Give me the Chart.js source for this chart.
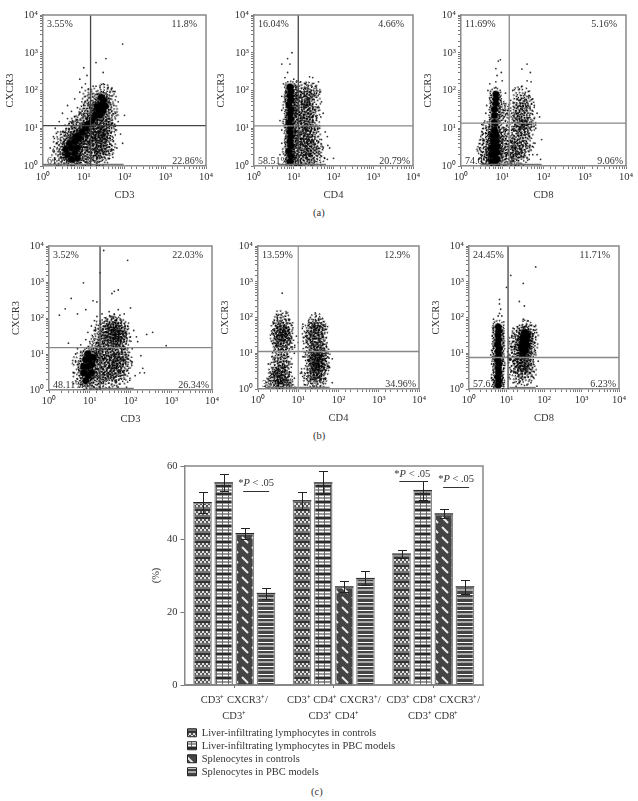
<!DOCTYPE html>
<html>
<head>
<meta charset="utf-8">
<script src="https://cdn.jsdelivr.net/npm/chart.js@4/dist/chart.umd.min.js"></script>
<style>
html, body { margin: 0; padding: 0; background: #fff; width: 638px; height: 801px; overflow: hidden; }
canvas { position: absolute; }
.cap { position: absolute; font: 10.5px "Liberation Serif", serif; color: #333; }
</style>
</head>
<body>
<div class="cap" style="left:313px;top:207px">(a)</div>
<div class="cap" style="left:313px;top:430px">(b)</div>
<div class="cap" style="left:311px;top:786px">(c)</div>

<canvas id="a1"></canvas><canvas id="a2"></canvas><canvas id="a3"></canvas>
<canvas id="b1"></canvas><canvas id="b2"></canvas><canvas id="b3"></canvas>
<canvas id="bars"></canvas><canvas id="legendBox"></canvas>

<script>
// --- flow panels, values ---
const decadeLabels = ['10\u2070', '10\u00b9', '10\u00b2', '10\u00b3', '10\u2074'];

const a1Core = [[4,2],[5,3],[6,2.2],[4.5,4],[6,4.5],[5,1.5],[7,3],[3.6,2.8],[7,1.6],[6.5,6],[8,5.5],[9,8],[11,10],[13,13],[16,16],[19,22],[23,30],[27,42],[31,55],[25,22],[30,30],[34,38],[27,65],[21,38]];
const a1Mid = [[2.5,1.8],[3,3],[3,5],[3.6,1.3],[4,6],[5,7],[5.5,9],[7,11],[8,14],[9,3],[9,5],[10,2],[10,6],[8,1.4],[11,4],[12,7],[13,2],[14,4],[15,9],[16,1.5],[17,6],[18,3],[19,11],[20,5],[21,8],[22,2],[23,13],[24,4],[26,6],[27,1.6],[28,10],[29,3],[30,15],[31,7],[33,2.2],[35,5],[36,11],[38,20],[40,3.5],[42,8],[15,25],[12,30],[10,20],[45,30],[42,70],[35,90],[18,50],[14,70]];
const a1Haze = [[1.5,3],[1.8,6],[2,1.5],[2,10],[2.2,4],[2.5,15],[3,25],[3,8],[3.5,12],[4,18],[4,40],[5,14],[5,28],[6,60],[6,20],[7,35],[8,25],[8,90],[9,50],[9,120],[10,40],[11,150],[11,70],[12,250],[13,110],[8,200],[10,400],[14,35],[20,550],[17,130],[20,130],[25,120],[30,150],[35,700],[30,300],[40,120],[45,60],[50,14],[50,5],[52,1.7],[55,40],[60,9],[60,25],[65,3],[70,15],[70,50],[80,7],[90,4],[100,22],[90,1700]];

const a2Core = [[8,1.3],[8.5,1.8],[7.5,2.5],[8.5,3.4],[8,4.5],[8.5,6],[8,8],[8.5,11],[7.5,14],[8.5,18],[8,24],[8.5,32],[7.5,42],[8.5,55],[8,72],[8.5,95],[8,125]];
const a2Mid = [[10,1.4],[10.5,2.5],[10,5],[10.5,10],[10,20],[10.5,40],[10,80],[14,1.3],[15,2.2],[14,4],[16,7],[14,14],[16,28],[15,55],[14,100],[18,1.8],[19,3.5],[20,6],[18,10],[20,18],[18,35],[19,70],[23,1.3],[24,2.7],[22,5],[25,9],[23,16],[24,30],[22,60],[25,100],[28,2],[30,4],[28,8],[30,13],[29,25],[31,50],[28,90],[35,1.5],[36,3]];
const a2Haze = [[4.5,2],[5,4],[5,9],[4.5,16],[5,30],[5,70],[5.5,150],[6,220],[7,300],[8,500],[7,700],[5,500],[9,1000],[10,200],[12,180],[15,170],[20,150],[25,230],[30,220],[35,130],[42,170],[45,90],[50,50],[48,20],[45,10],[50,5],[55,3],[60,1.6],[55,25],[62,8],[70,6],[72,3.5],[80,3],[70,1.5],[100,1.6],[12,8],[12,30],[12,3],[16,1.2],[17,16],[21,12],[26,2],[26,45],[33,9],[33,30],[40,35],[42,2.2],[42,4.5],[12,60]];

const a3Core = [[5.5,1.3],[6.5,1.3],[7.5,1.5],[5.5,2],[6.5,2],[7.5,2.3],[5.5,3],[6.5,3],[7.5,3.3],[6,4.5],[7,4.5],[6,6.5],[7,6.5],[6.5,9],[6.5,14],[6.5,22],[6.5,32],[7,45],[7,60],[7,80]];
const a3Mid = [[4,2],[4,3],[4.5,4.5],[4.5,1.5],[4.5,7],[5,11],[8.5,4],[9,7],[8.5,12],[8.5,20],[9,35],[12,1.4],[13,3],[12,6],[14,2],[16,1.4],[18,3],[17,6],[20,2],[22,4],[25,1.5],[28,3],[30,6],[33,2.5],[38,4],[25,12],[30,10],[28,18],[35,12],[33,25],[40,9],[40,15],[28,40],[35,50],[30,80],[40,40],[20,14],[17,30]];
const a3Haze = [[2.7,1.5],[2.8,3],[3,2],[3,5],[3.3,1.2],[3.3,8],[3.5,4],[3.6,14],[4,10],[4,25],[4.2,40],[4.5,100],[5,60],[5,150],[7,120],[7,170],[7.5,250],[7,380],[8,600],[9,650],[9.5,300],[10,180],[11,9],[11,20],[11,45],[12,85],[13,12],[14,30],[15,14],[16,55],[17,25],[18,100],[19,9],[20,35],[22,70],[24,25],[25,6],[26,110],[30,130],[35,25],[30,370],[40,500],[48,300],[40,180],[50,170],[55,60],[60,40],[60,18],[62,4],[65,10],[70,25],[80,20],[55,2],[45,1.5],[70,2],[85,1.5],[90,5]];

const b1Core = [[7,3],[9,2.5],[11,3],[7,4.5],[9,4.5],[11,5],[8,7],[10,7],[12,8],[9,10],[8,1.8]];
const b1Mid = [[30,25],[38,22],[48,28],[55,25],[30,40],[40,35],[50,40],[60,38],[35,55],[45,55],[55,60],[40,75],[30,70],[65,25],[25,30],[45,18],[28,5],[35,3.5],[45,3],[55,4],[65,5],[35,7],[45,6],[55,7],[70,8],[40,10],[55,11],[30,10],[25,3],[28,1.8],[40,2],[60,2.3],[6,2.5],[6,7],[13,3.5],[14,6],[15,10],[13,12],[16,2],[12,1.5],[10,1.3],[14,15],[20,6],[20,10],[20,3],[18,30],[20,50],[22,18]];
const b1Haze = [[4,1.5],[4,3],[4.5,6],[4.5,10],[5,2],[5,14],[5.5,1.2],[6,18],[7,12],[8,25],[9,40],[10,22],[11,60],[12,30],[13,85],[14,45],[15,110],[16,20],[18,70],[20,130],[25,100],[25,14],[28,60],[30,150],[35,110],[35,15],[40,130],[45,90],[50,170],[55,120],[60,80],[60,15],[65,55],[70,130],[75,40],[75,14],[80,22],[85,60],[90,9],[90,4],[100,30],[100,190],[110,14],[110,6],[120,45],[130,2.5],[140,30],[70,2],[80,1.2],[50,1.2],[30,1.2],[18,1.2],[150,22],[180,9],[170,3],[200,4],[220,3],[250,35],[350,40],[750,17],[40,550],[35,480],[50,600],[85,4000],[22,7500],[18,1800],[3.5,350],[2.5,180],[7,950],[12,300],[15,280],[3,20],[5,130],[1.8,120],[8,170]];

const b2Core = [];
const b2Mid = [[3.8,2],[4,2.8],[3.5,1.6],[3.2,2.4],[4,30],[3.7,40],[4.2,22],[4,35],[30,5],[33,4],[28,7],[31,3],[30,6],[27,30],[30,40],[27,2.2],[2.5,1.5],[3,2.2],[3,3.5],[4.5,3.5],[3.5,5],[4,7],[3.5,10],[4.5,14],[3.5,18],[3,28],[4.5,35],[3.2,50],[5,55],[4,70],[3.8,90],[5,18],[5,1.3],[4.8,2],[22,1.8],[25,3],[24,5],[22,8],[28,11],[35,7],[38,5],[36,3],[32,13],[25,18],[35,20],[22,25],[35,35],[25,50],[32,60],[28,80],[20,40],[40,10],[30,1.5],[18,3],[20,15]];
const b2Haze = [[1.5,1.2],[2,2],[2,3],[1.8,5],[2.2,8],[2.5,12],[2.5,20],[2.2,35],[2.5,70],[3,100],[3,6],[5,130],[5,80],[5.5,40],[5.5,8],[6,25],[6,3],[6,1.2],[7,15],[7,5],[7,60],[8,2],[8,10],[9,30],[13,65],[13,8],[14,2],[15,30],[16,15],[15,1.3],[18,80],[18,6],[20,100],[22,60],[28,110],[35,90],[38,55],[42,30],[42,18],[45,12],[45,4],[50,6],[48,2],[42,1.4],[55,10],[60,4],[70,1.5],[70,7],[4,480],[35,1.2],[25,1.2],[10,20],[12,3]];

const b3Core = [[6,1.3],[6.3,1.7],[5.8,2.2],[6.2,2.9],[6,3.8],[6.3,5],[5.8,6.5],[6.2,8.5],[6,11],[6.3,14],[5.8,18],[6.2,24],[6,32],[6.3,42],[6,55],[28,10],[32,12],[25,15],[30,16],[35,17],[27,21],[33,23],[29,29],[36,30],[31,38]];
const b3Mid = [[18,5],[20,8],[22,4],[25,6],[28,3.5],[30,6],[35,5],[38,9],[20,14],[18,22],[40,15],[40,25],[25,38],[35,48],[28,7],[22,28],[42,40],[20,2.5],[30,2],[40,3],[16,10]];
const b3Haze = [[4,2],[4,5],[4,12],[3.8,9],[4.2,30],[4.5,50],[4.5,90],[8,2],[8,6],[8,15],[8,35],[8.5,75],[6,110],[6.5,130],[7,170],[6.5,240],[6.5,320],[7.5,110],[10,700],[13,1500],[28,900],[60,2600],[22,280],[30,210],[13,3],[13,7],[14,15],[14,30],[15,1.5],[15,50],[17,3],[18,1.2],[22,1.5],[25,2],[35,1.3],[35,3],[45,5],[45,1.5],[50,10],[50,30],[55,3],[55,20],[60,60],[45,60],[38,80],[28,90],[30,55],[20,55],[65,1.2],[70,6]];

// --- bar panel ---
const barGroups = [['CD3\u207a CXCR3\u207a/', 'CD3\u207a'], ['CD3\u207a CD4\u207a CXCR3\u207a/', 'CD3\u207a CD4\u207a'], ['CD3\u207a CD8\u207a CXCR3\u207a/', 'CD3\u207a CD8\u207a']];
const seriesNames = ['Liver-infiltrating lymphocytes in controls', 'Liver-infiltrating lymphocytes in PBC models', 'Splenocytes in controls', 'Splenocytes in PBC models'];
const liverControls = [50, 50.5, 35.9];
const liverPbc = [55.4, 55.4, 53.3];
const spleenControls = [41.5, 26.9, 46.9];
const spleenPbc = [25.1, 29.2, 26.9];
const liverControlsErr = [2.8, 2.4, 1.0];
const liverPbcErr = [2.3, 3.1, 2.7];
const spleenControlsErr = [1.5, 1.5, 1.2];
const spleenPbcErr = [1.5, 1.9, 2.0];
const sigGroup = [0.22, 1.79, 2.23];
const sigValue = [55.2, 57.7, 56.3];

Chart.defaults.font.family = '"Liberation Serif", serif';
Chart.defaults.font.size = 10.5;
Chart.defaults.color = '#333';
Chart.defaults.animation = false;

function toXY(points) {
    return points.map(p => ({x: p[0], y: p[1]}));
}

// point markers: each flow event group is drawn as a speckled clump, not a plain disc
function makeSpeck(size, blobRadius, specks) {
    const c = document.createElement('canvas');
    c.width = c.height = size;
    const g = c.getContext('2d');
    g.fillStyle = '#000';
    if (blobRadius > 0) {
        g.beginPath();
        g.arc(size / 2, size / 2, blobRadius, 0, Math.PI * 2);
        g.fill();
    }
    specks.forEach(s => g.fillRect(size / 2 + s[0], size / 2 + s[1], 1.4, 1.4));
    return c;
}

const coreSpeck = makeSpeck(14, 3.6, [[-6,-1],[-5,2],[-5,-3],[-4,-5],[-4,4],[-2,-6],[-1,5],[1,-6],[2,5],[3,-5],[4,3],[4,-3],[5,-1],[5,1]]);
const midSpeck = makeSpeck(20, 0, [[-8,-2],[-7,3],[-6,-5],[-5,1],[-5,6],[-4,-3],[-3,-8],[-3,4],[-2,-1],[-1,-6],[-1,2],[-1,8],[0,-3],[1,0],[1,5],[2,-7],[2,3],[3,-2],[4,1],[4,6],[5,-5],[6,1],[6,-2],[7,4],[-3,8],[-7,-6]]);

// small frame + quadrant percentages
const flowDecor = {
    id: 'flowDecor',
    beforeDatasetsDraw(chart, args, opts) {
        const {ctx, chartArea: a} = chart;
        ctx.save();
        ctx.font = '10px "Liberation Serif", serif';
        ctx.fillStyle = '#333';
        ctx.textBaseline = 'middle';
        ctx.fillText(opts.pct[2], a.left + 4, a.bottom - 5);
        ctx.restore();
    },
    afterDatasetsDraw(chart, args, opts) {
        const {ctx, chartArea: a} = chart;
        ctx.save();
        ctx.strokeStyle = '#888';
        ctx.lineWidth = 1.5;
        ctx.beginPath();
        ctx.moveTo(a.left, a.top);
        ctx.lineTo(a.right, a.top);
        ctx.lineTo(a.right, a.bottom);
        ctx.stroke();
        ctx.font = '10px "Liberation Serif", serif';
        ctx.fillStyle = '#333';
        ctx.textBaseline = 'middle';
        ctx.fillText(opts.pct[0], a.left + 4, a.top + 9.5);
        ctx.textAlign = 'right';
        ctx.fillText(opts.pct[1], a.right - 9, a.top + 9.5);
        ctx.fillText(opts.pct[3], a.right - 3, a.bottom - 5);
        ctx.restore();
    }
};

function logAxis(titleText, fit) {
    return {
        type: 'logarithmic',
        min: 1,
        max: 10000,
        afterFit: fit,
        border: {color: '#888', width: 1.5},
        grid: {drawOnChartArea: false, color: '#777', tickLength: 3},
        ticks: {
            autoSkip: false,
            maxRotation: 0,
            padding: 2,
            callback(v) {
                const i = Math.round(Math.log10(v));
                return Math.abs(Math.pow(10, i) - v) < 1e-6 ? decadeLabels[i] : '';
            }
        },
        title: {display: true, text: titleText, padding: 0, font: {size: 10.5}}
    };
}

function plotFlow(p) {
    const canvas = document.getElementById(p.id);
    canvas.width = p.right - p.left + 39 + 15;
    canvas.height = p.bottom - p.top + 12 + 36;
    canvas.style.left = (p.left - 39) + 'px';
    canvas.style.top = (p.top - 12) + 'px';
    const gate = (points, color) => ({type: 'scatter', data: toXY(points), showLine: true, borderColor: color, borderWidth: 1.3, pointRadius: 0});
    const clumps = (points, style, r) => ({
        data: toXY(points),
        pointStyle: style,
        pointRadius: r,
        pointRotation: ctx => (ctx.dataIndex * 67) % 360
    });
    new Chart(canvas, {
        type: 'scatter',
        data: {datasets: [
            gate([[p.gateX, 1], [p.gateX, 10000]], p.gateColors[0]),
            gate([[1, p.gateY], [10000, p.gateY]], p.gateColors[1]),
            gate([[p.floor[0], 1.1], [p.floor[1], 1.1]], '#777'),
            clumps(p.core, coreSpeck, 6),
            clumps(p.mid, midSpeck, 8),
            {data: toXY(p.haze), pointRadius: 0.9, backgroundColor: 'rgba(0,0,0,.8)', borderWidth: 0}
        ]},
        options: {
            responsive: false,
            layout: {padding: {top: 12, right: 15}},
            plugins: {legend: {display: false}, tooltip: {enabled: false}, flowDecor: {pct: p.pct}},
            scales: {
                x: logAxis(p.xTitle, s => { s.height = 36; }),
                y: logAxis('CXCR3', s => { s.width = 39; })
            }
        },
        plugins: [flowDecor]
    });
}

plotFlow({id: 'a1', left: 43, right: 206, top: 15, bottom: 166, xTitle: 'CD3', gateX: 14.7, gateY: 11.7, gateColors: ['#444', '#444'], floor: [1, 95], pct: ['3.55%', '11.8%', '61.79%', '22.86%'], core: a1Core, mid: a1Mid, haze: a1Haze});
plotFlow({id: 'a2', left: 254, right: 413, top: 15, bottom: 166, xTitle: 'CD4', gateX: 13, gateY: 11.6, gateColors: ['#444', '#888'], floor: [4, 65], pct: ['16.04%', '4.66%', '58.51%', '20.79%'], core: a2Core, mid: a2Mid, haze: a2Haze});
plotFlow({id: 'a3', left: 461, right: 626, top: 15, bottom: 166, xTitle: 'CD8', gateX: 14.8, gateY: 13.6, gateColors: ['#888', '#888'], floor: [3, 90], pct: ['11.69%', '5.16%', '74.09%', '9.06%'], core: a3Core, mid: a3Mid, haze: a3Haze});
plotFlow({id: 'b1', left: 49, right: 212, top: 246, bottom: 390, xTitle: 'CD3', gateX: 17.9, gateY: 15, gateColors: ['#444', '#888'], floor: [10, 120], pct: ['3.52%', '22.03%', '48.11%', '26.34%'], core: b1Core, mid: b1Mid, haze: b1Haze});
plotFlow({id: 'b2', left: 258, right: 419, top: 246, bottom: 389, xTitle: 'CD4', gateX: 10, gateY: 11.2, gateColors: ['#999', '#888'], floor: [1.5, 60], pct: ['13.59%', '12.9%', '38.55%', '34.96%'], core: b2Core, mid: b2Mid, haze: b2Haze});
plotFlow({id: 'b3', left: 469, right: 619, top: 246, bottom: 389, xTitle: 'CD8', gateX: 11, gateY: 7.6, gateColors: ['#444', '#888'], floor: [12, 60], pct: ['24.45%', '11.71%', '57.62%', '6.23%'], core: b3Core, mid: b3Mid, haze: b3Haze});

// hatch fills for the bars
function makeTile(w, h, paint) {
    const c = document.createElement('canvas');
    c.width = w;
    c.height = h;
    paint(c.getContext('2d'));
    return c.getContext('2d').createPattern(c, 'repeat');
}

const hatchLiverControls = makeTile(4, 8, g => {
    g.fillStyle = '#777'; g.fillRect(0, 0, 4, 8);
    g.fillStyle = '#ddd'; g.fillRect(0, 0, 2, 2); g.fillRect(2, 2, 2, 2);
    g.fillStyle = '#555'; g.fillRect(2, 0, 2, 2); g.fillRect(0, 2, 2, 2);
    g.fillStyle = '#333'; g.fillRect(0, 6, 4, 2);
});
const hatchLiverPbc = makeTile(6, 8, g => {
    g.fillStyle = '#999'; g.fillRect(0, 0, 6, 8);
    g.fillStyle = '#fff'; g.fillRect(0, 1, 6, 1); g.fillRect(0, 4, 6, 1);
    g.fillStyle = '#666'; g.fillRect(0, 0, 1, 6);
    g.fillStyle = '#2a2a2a'; g.fillRect(0, 6, 6, 2);
});
const hatchSpleenControls = makeTile(10, 10, g => {
    g.fillStyle = '#444'; g.fillRect(0, 0, 10, 10);
    g.strokeStyle = '#eee'; g.lineWidth = 2;
    g.beginPath(); g.moveTo(2, 2); g.lineTo(8, 8); g.stroke();
});
const hatchSpleenPbc = makeTile(4, 8, g => {
    g.fillStyle = '#444'; g.fillRect(0, 0, 4, 8);
    g.fillStyle = '#fff'; g.fillRect(0, 3, 4, 1);
    g.fillStyle = '#aaa'; g.fillRect(0, 6, 4, 2);
});

const barFills = [hatchLiverControls, hatchLiverPbc, hatchSpleenControls, hatchSpleenPbc];
const barValues = [liverControls, liverPbc, spleenControls, spleenPbc];
const barErrors = [liverControlsErr, liverPbcErr, spleenControlsErr, spleenPbcErr];

// error whiskers and the significance notes
const barDecor = {
    id: 'barDecor',
    afterDatasetsDraw(chart) {
        const {ctx, chartArea: a, scales} = chart;
        ctx.save();
        ctx.strokeStyle = '#888';
        ctx.lineWidth = 1.5;
        ctx.beginPath();
        ctx.moveTo(a.left, a.top);
        ctx.lineTo(a.right, a.top);
        ctx.lineTo(a.right, a.bottom);
        ctx.stroke();

        ctx.strokeStyle = '#222';
        ctx.lineWidth = 1;
        barErrors.forEach((errs, d) => {
            chart.getDatasetMeta(d).data.forEach((bar, i) => {
                const hi = Math.round(scales.y.getPixelForValue(barValues[d][i] + errs[i])) + 0.5;
                const lo = Math.round(scales.y.getPixelForValue(barValues[d][i] - errs[i])) + 0.5;
                const x = Math.round(bar.x) + 0.5;
                ctx.beginPath();
                ctx.moveTo(x - 4.5, hi); ctx.lineTo(x + 4.5, hi);
                ctx.moveTo(x, hi); ctx.lineTo(x, lo);
                ctx.moveTo(x - 4.5, lo); ctx.lineTo(x + 4.5, lo);
                ctx.moveTo(bar.x - bar.width / 2, bar.y); ctx.lineTo(bar.x + bar.width / 2, bar.y);
                ctx.stroke();
            });
        });

        ctx.textBaseline = 'middle';
        sigGroup.forEach((g, i) => {
            const x = scales.x.getPixelForValue(g);
            const y = scales.y.getPixelForValue(sigValue[i]);
            const parts = [['*', '10.5px'], ['P', 'italic 10.5px'], [' < .05', '10.5px']];
            ctx.fillStyle = '#333';
            let total = 0;
            parts.forEach(pt => {
                ctx.font = pt[1] + ' "Liberation Serif", serif';
                total += ctx.measureText(pt[0]).width;
            });
            let tx = x - total / 2;
            parts.forEach(pt => {
                ctx.font = pt[1] + ' "Liberation Serif", serif';
                ctx.fillText(pt[0], tx, y);
                tx += ctx.measureText(pt[0]).width;
            });
            ctx.strokeStyle = '#333';
            ctx.beginPath();
            ctx.moveTo(x - 13, Math.round(y + 7) + 0.5);
            ctx.lineTo(x + 13, Math.round(y + 7) + 0.5);
            ctx.stroke();
        });
        ctx.restore();
    }
};

const barCanvas = document.getElementById('bars');
barCanvas.width = 350;
barCanvas.height = 270;
barCanvas.style.left = '150px';
barCanvas.style.top = '455px';
new Chart(barCanvas, {
    type: 'bar',
    data: {
        labels: barGroups,
        datasets: seriesNames.map((name, d) => ({
            label: name,
            data: barValues[d],
            backgroundColor: barFills[d],
            borderColor: '#888',
            borderWidth: 1.5,
            categoryPercentage: 0.85,
            barPercentage: 0.88
        }))
    },
    options: {
        responsive: false,
        layout: {padding: {top: 11, right: 17}},
        plugins: {legend: {display: false}, tooltip: {enabled: false}},
        scales: {
            x: {
                afterFit: s => { s.height = 40; },
                border: {color: '#888', width: 2},
                grid: {drawOnChartArea: false, offset: false, color: '#777', tickLength: 3},
                ticks: {maxRotation: 0, autoSkip: false, padding: 4, font: {size: 10.5, lineHeight: 1.55}}
            },
            y: {
                min: 0,
                max: 60,
                afterFit: s => { s.width = 34.5; },
                border: {color: '#888', width: 1.5},
                grid: {drawOnChartArea: false, color: '#777', tickLength: 4},
                ticks: {stepSize: 20, padding: 3},
                title: {display: true, text: '(%)', padding: 0, font: {size: 10.5}}
            }
        }
    },
    plugins: [barDecor]
});

// legend lives in its own canvas so it can stack in one column under the plot
const legendCanvas = document.getElementById('legendBox');
legendCanvas.width = 453;
legendCanvas.height = 60;
legendCanvas.style.left = '185px';
legendCanvas.style.top = '725px';
new Chart(legendCanvas, {
    type: 'bar',
    data: {
        labels: [],
        datasets: seriesNames.map((name, d) => ({label: name, data: [], backgroundColor: barFills[d], borderColor: '#222', borderWidth: 1}))
    },
    options: {
        responsive: false,
        layout: {padding: 0},
        scales: {x: {display: false}, y: {display: false}},
        plugins: {
            tooltip: {enabled: false},
            legend: {
                position: 'left',
                align: 'start',
                labels: {boxWidth: 9, boxHeight: 8, padding: 2.5, color: '#333', font: {size: 10.5, lineHeight: 1.1}}
            }
        }
    }
});
</script>
</body>
</html>
